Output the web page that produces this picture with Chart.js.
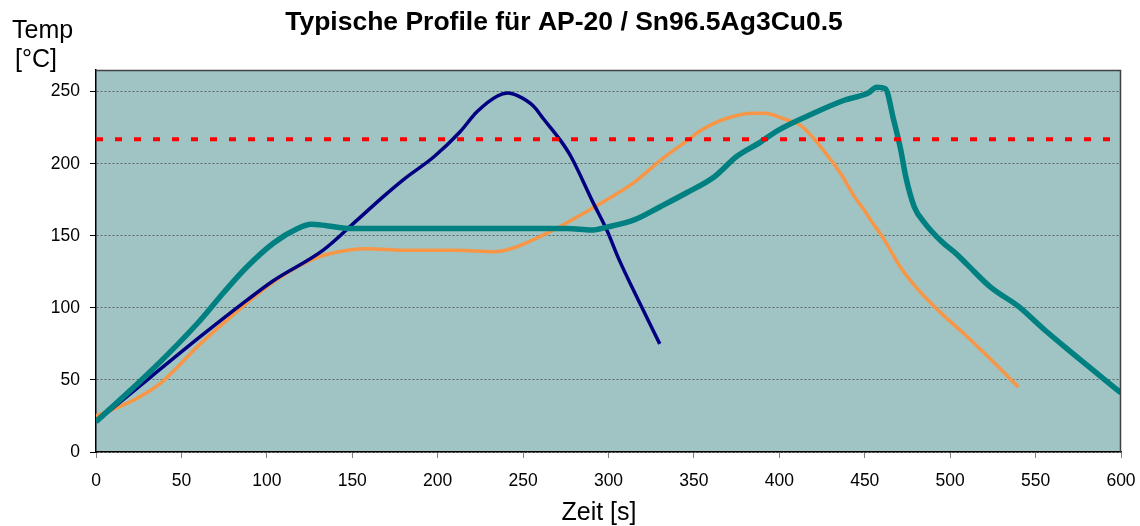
<!DOCTYPE html>
<html>
<head>
<meta charset="utf-8">
<script src="https://cdn.jsdelivr.net/npm/chart.js@4/dist/chart.umd.min.js"></script>
<style>
  html,body{margin:0;padding:0;background:#fff}
  #wrap{width:1140px;height:526px}
</style>
</head>
<body>
<div id="wrap"><canvas id="c" width="1140" height="526"></canvas></div>
<script>
// profile 1 (navy)
const navyX=[0,32,61,88,104,133,153,168,180,198,213,223,235,241,247,256,262,272,278,291,299,306,318,330];
const navyY=[21,52,80,105,119,140,161,177,189,205,222,236,247,249,247,240,231,216,205,173,154,134,104,75];
// profile 2 (orange)
const orangeX=[0,22,38,61,84,104,122,135,159,180,211,233,243,266,286,299,315,331,346,354,368,385,391,403,413,428,436,444,449,454,461,471,481,495,510,524,540];
const orangeY=[25,36,48,75,99,118,131,137,141,140,140,139,141,153,166,175,187,203,216,223,231,235,235,231,226,206,193,177,169,160,148,128,113,96,80,64,45];
// profile 3 (teal)
const tealX=[0,32,60,75,88,104,118,126,135,150,200,250,276,290,299,315,330,346,362,375,389,399,420,438,452,457,462,467,471,474,479,485,495,504,510,524,540,554,569,600];
const tealY=[21,56,90,111,128,145,155,158,157,155,155,155,155,154,156,161,170,180,191,205,215,223,235,244,249,253,252,230,210,191,170,159,146,137,130,114,101,86,71,41];
// liquidus line
const liqX=[0,600];
const liqY=[217,217];

const xTicks=[0,50,100,150,200,250,300,350,400,450,500,550,600];
const yTicks=[0,50,100,150,200,250];

const FONT="'Liberation Sans', Arial, sans-serif";
const pts=(xs,ys)=>xs.map((x,i)=>({x,y:ys[i]}));

const deco={
  id:"deco",
  beforeDraw(chart){
    const {ctx,chartArea:a}=chart;
    ctx.save();
    ctx.fillStyle="#A0C4C4";
    ctx.fillRect(a.left,a.top,a.right-a.left,a.bottom-a.top);
    ctx.restore();
  },
  afterDraw(chart){
    const {ctx,chartArea:a}=chart;
    ctx.save();
    ctx.strokeStyle="#404040";ctx.lineWidth=1.5;
    ctx.beginPath();
    ctx.moveTo(a.left,a.top+0.5);ctx.lineTo(a.right-0.5,a.top+0.5);ctx.lineTo(a.right-0.5,a.bottom);
    ctx.stroke();
    ctx.fillStyle="#000";ctx.textBaseline="alphabetic";
    ctx.font="bold 26.5px "+FONT;
    ctx.textAlign="center";
    ctx.fillText("Typische Profile für AP-20 / Sn96.5Ag3Cu0.5",564,30);
    ctx.font="25px "+FONT;
    ctx.fillText("Zeit [s]",599,520);
    ctx.textAlign="left";
    ctx.fillText("Temp",12,38);
    ctx.fillText("[°C]",15,67);
    ctx.restore();
  }
};

new Chart(document.getElementById("c"),{
  type:"line",
  data:{datasets:[
    {label:"Liquidus",data:pts(liqX,liqY),borderColor:"#FF0000",borderWidth:4,borderDash:[7,12],pointRadius:0,order:0},
    {label:"Profil 1",data:pts(navyX,navyY),borderColor:"#000080",borderWidth:3.5,pointRadius:0,cubicInterpolationMode:"monotone",order:2},
    {label:"Profil 2",data:pts(orangeX,orangeY),borderColor:"#F79646",borderWidth:3.5,pointRadius:0,cubicInterpolationMode:"monotone",order:3},
    {label:"Profil 3",data:pts(tealX,tealY),borderColor:"#008080",borderWidth:5.5,pointRadius:0,cubicInterpolationMode:"monotone",order:1}
  ]},
  options:{
    responsive:false,animation:false,
    layout:{padding:{top:70,right:19,left:0,bottom:0}},
    plugins:{legend:{display:false},tooltip:{enabled:false},title:{display:false}},
    scales:{
      x:{type:"linear",min:0,max:600,
        afterBuildTicks:s=>{s.ticks=xTicks.map(v=>({value:v}));},
        afterFit:s=>{s.height=74;s.paddingLeft=0;s.paddingRight=0;},
        grid:{drawOnChartArea:false,drawTicks:true,tickLength:6,tickColor:"#808080"},
        border:{color:"#000",width:1.5},
        ticks:{color:"#000",padding:13,font:{size:17.5,family:FONT},maxRotation:0}
      },
      y:{min:0,max:265,
        afterBuildTicks:s=>{s.ticks=yTicks.map(v=>({value:v}));},
        afterFit:s=>{s.width=96;s.paddingTop=0;s.paddingBottom=0;},
        grid:{color:"#5A6A6A",lineWidth:1,tickColor:"#000",tickLength:6},
        border:{color:"#000",width:1.5,dash:[2,2]},
        ticks:{color:"#000",padding:10,font:{size:17.5,family:FONT}}
      }
    }
  },
  plugins:[deco]
});
</script>
</body>
</html>
